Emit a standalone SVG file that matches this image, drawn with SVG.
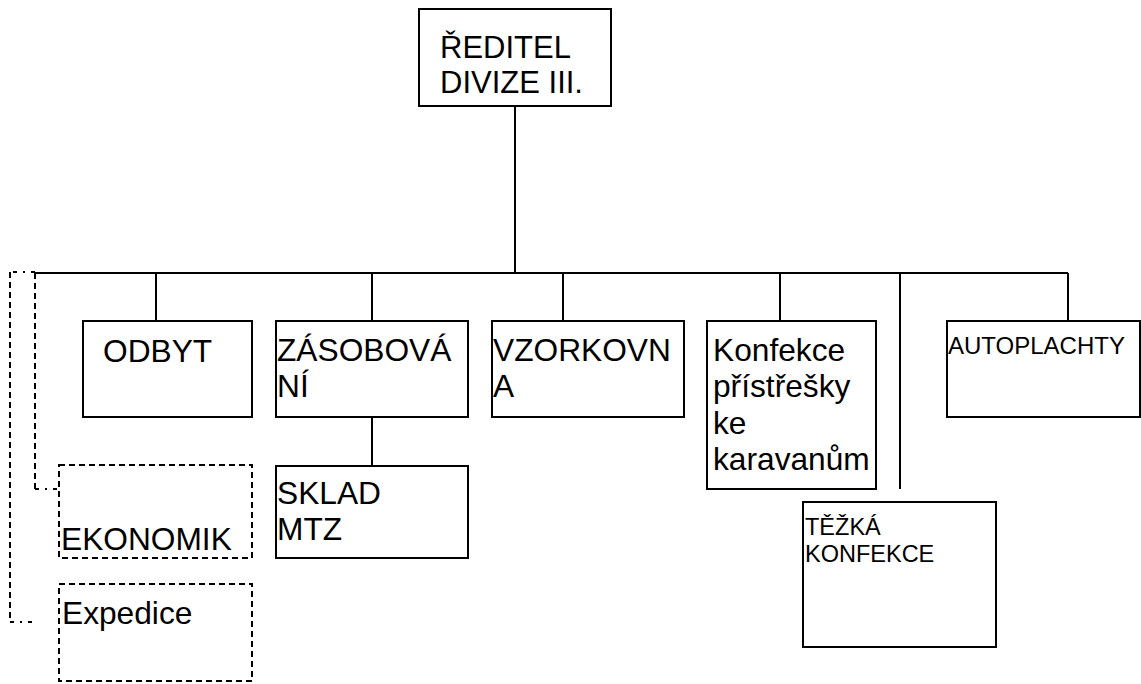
<svg xmlns="http://www.w3.org/2000/svg" width="1141" height="684" viewBox="0 0 1141 684">
<style>
.box{fill:#fff;stroke:#000;stroke-width:2}
.dbox{fill:#fff;stroke:#000;stroke-width:2;stroke-dasharray:6,4}
.ln{stroke:#000;stroke-width:2;fill:none}
.dl{stroke:#000;stroke-width:2;fill:none;stroke-dasharray:6,4}
.dd{stroke:#000;stroke-width:2;fill:none;stroke-dasharray:4,6,2,6}
text{font-family:"Liberation Sans",Arial,sans-serif;fill:#000}
.t{font-size:31.7px}
.s{font-size:24px}
</style>
<rect width="1141" height="684" fill="#fff"/>
<g id="connectors">
<line class="ln" x1="515" y1="106" x2="515" y2="273"/>
<line class="ln" x1="35" y1="273" x2="1068" y2="273"/>
<line class="ln" x1="156" y1="273" x2="156" y2="321"/>
<line class="ln" x1="372" y1="273" x2="372" y2="321"/>
<line class="ln" x1="563" y1="273" x2="563" y2="321"/>
<line class="ln" x1="780" y1="273" x2="780" y2="321"/>
<line class="ln" x1="900" y1="273" x2="900" y2="489"/>
<line class="ln" x1="1068" y1="273" x2="1068" y2="321"/>
<line class="ln" x1="372" y1="417" x2="372" y2="466"/>
<line class="dl" x1="35" y1="273" x2="35" y2="489"/>
<line class="dd" x1="35" y1="489" x2="59" y2="489"/>
<line class="dd" x1="35" y1="272" x2="10" y2="272"/>
<line class="dl" x1="10" y1="272" x2="10" y2="622"/>
<line class="dd" x1="10" y1="622" x2="37" y2="622"/>
</g>
<g id="reditel">
<rect class="box" x="419" y="9" width="192" height="97"/>
<text x="440" y="58" style="font-size:31px">ŘEDITEL</text>
<text x="440" y="93" style="font-size:31px">DIVIZE III.</text>
</g>
<g id="odbyt">
<rect class="box" x="83" y="321" width="169" height="96"/>
<text class="t" x="103" y="362">ODBYT</text>
</g>
<g id="zasobovani">
<rect class="box" x="276" y="321" width="192" height="96"/>
<text class="t" x="277" y="361">ZÁSOBOVÁ</text>
<text class="t" x="277" y="397">NÍ</text>
</g>
<g id="vzorkovna">
<rect class="box" x="492" y="321" width="192" height="96"/>
<text class="t" x="493" y="361">VZORKOVN</text>
<text class="t" x="493" y="397">A</text>
</g>
<g id="konfekce">
<rect class="box" x="707" y="321" width="169" height="168"/>
<text class="t" x="713" y="361">Konfekce</text>
<text class="t" x="713" y="397">přístřešky</text>
<text class="t" x="713" y="434">ke</text>
<text class="t" x="713" y="470">karavanům</text>
</g>
<g id="autoplachty">
<rect class="box" x="947" y="321" width="193" height="96"/>
<text class="s" x="948" y="354">AUTOPLACHTY</text>
</g>
<g id="sklad">
<rect class="box" x="276" y="466" width="192" height="92"/>
<text class="t" x="277" y="504">SKLAD</text>
<text class="t" x="277" y="540">MTZ</text>
</g>
<g id="tezka">
<rect class="box" x="803" y="502" width="193" height="145"/>
<text x="805" y="535" style="font-size:23.5px">TĚŽKÁ</text>
<text x="805" y="562" style="font-size:23.5px">KONFEKCE</text>
</g>
<g id="ekonomik">
<rect class="dbox" x="59" y="465" width="193" height="93"/>
<text class="t" x="61" y="550">EKONOMIK</text>
</g>
<g id="expedice">
<rect class="dbox" x="59" y="584" width="193" height="97"/>
<text class="t" x="62" y="624">Expedice</text>
</g>
</svg>
